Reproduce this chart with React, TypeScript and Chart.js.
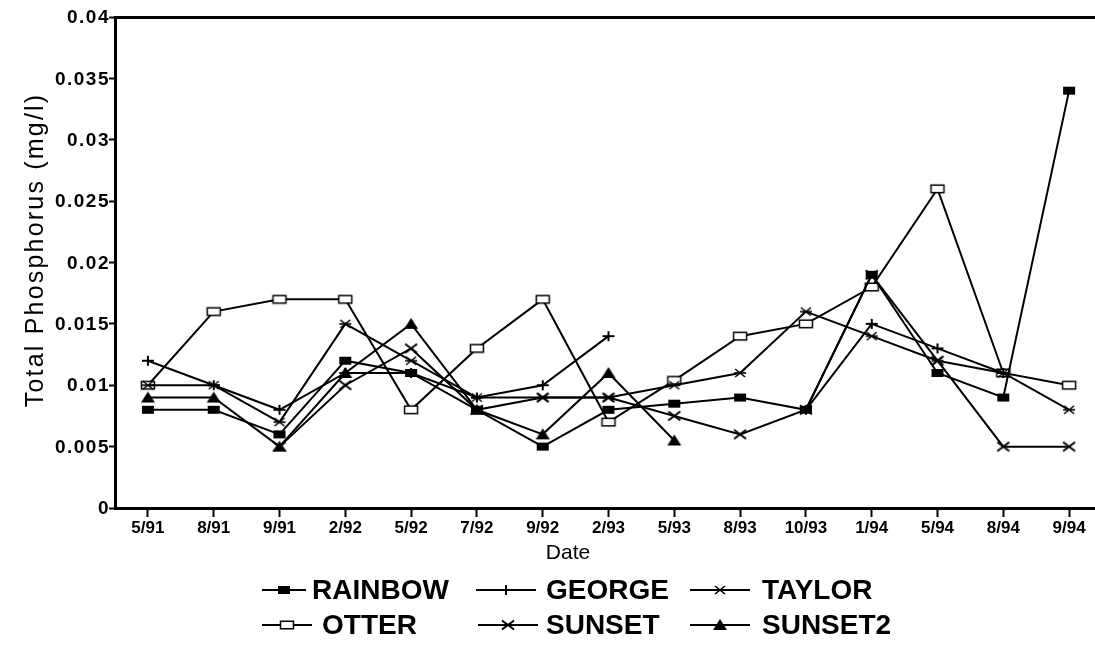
import React, { useEffect, useRef } from 'react';
import { Chart, registerables } from 'chart.js';

Chart.register(...registerables);

// Sampling dates (category axis)
const dateLabels = ['5/91', '8/91', '9/91', '2/92', '5/92', '7/92', '9/92', '2/93', '5/93', '8/93', '10/93', '1/94', '5/94', '8/94', '9/94'];

// Total phosphorus per lake, mg/l (null = not sampled)
const rainbow = [0.008, 0.008, 0.006, 0.012, 0.011, 0.008, 0.005, 0.008, 0.0085, 0.009, 0.008, 0.019, 0.011, 0.009, 0.034];
const george = [0.012, 0.010, 0.008, 0.011, 0.011, 0.009, 0.010, 0.014, null, null, 0.008, 0.015, 0.013, 0.011, null];
const taylor = [0.010, 0.010, 0.007, 0.015, 0.012, 0.009, 0.009, 0.009, 0.010, 0.011, 0.016, 0.014, 0.012, 0.011, 0.008];
const otter = [0.010, 0.016, 0.017, 0.017, 0.008, 0.013, 0.017, 0.007, 0.0104, 0.014, 0.015, 0.018, 0.026, 0.011, 0.010];
const sunset = [null, null, 0.005, 0.010, 0.013, 0.008, 0.009, 0.009, 0.0075, 0.006, 0.008, 0.019, 0.012, 0.005, 0.005];
const sunset2 = [0.009, 0.009, 0.005, 0.011, 0.015, 0.008, 0.006, 0.011, 0.0055, null, null, null, null, null, null];

const seriesNames = ['RAINBOW', 'GEORGE', 'TAYLOR', 'OTTER', 'SUNSET', 'SUNSET2'];
const yTickLabels = ['0', '0.005', '0.01', '0.015', '0.02', '0.025', '0.03', '0.035', '0.04'];
const yTitle = 'Total Phosphorus (mg/l)';
const xTitle = 'Date';

const FONT = '"Liberation Sans", Arial, Helvetica, sans-serif';

type MarkerKind = 'filledRect' | 'plus' | 'asterisk' | 'openRect' | 'cross' | 'triangle';

function makeMarker(kind: MarkerKind): HTMLCanvasElement {
  const c = document.createElement('canvas');
  c.width = 18;
  c.height = 14;
  const g = c.getContext('2d')!;
  const cx = 9;
  const cy = 7;
  g.strokeStyle = '#000';
  g.fillStyle = '#000';
  g.lineWidth = 2;
  const line = (x1: number, y1: number, x2: number, y2: number) => {
    g.beginPath();
    g.moveTo(x1, y1);
    g.lineTo(x2, y2);
    g.stroke();
  };
  switch (kind) {
    case 'filledRect':
      g.fillRect(cx - 6, cy - 4, 12, 8);
      break;
    case 'openRect':
      g.fillStyle = '#fff';
      g.fillRect(cx - 7, cy - 4, 14, 8);
      g.lineWidth = 1.5;
      g.strokeRect(cx - 6.5, cy - 3.75, 13, 7.5);
      break;
    case 'plus':
      line(cx - 6, cy, cx + 6, cy);
      line(cx, cy - 5, cx, cy + 5);
      break;
    case 'asterisk':
      g.lineWidth = 1.6;
      line(cx - 5, cy - 4, cx + 5, cy + 4);
      line(cx - 5, cy + 4, cx + 5, cy - 4);
      line(cx - 6, cy, cx + 6, cy);
      break;
    case 'cross':
      line(cx - 6, cy - 4.5, cx + 6, cy + 4.5);
      line(cx - 6, cy + 4.5, cx + 6, cy - 4.5);
      break;
    case 'triangle':
      g.beginPath();
      g.moveTo(cx, cy - 6);
      g.lineTo(cx + 7, cy + 5);
      g.lineTo(cx - 7, cy + 5);
      g.closePath();
      g.fill();
      break;
  }
  return c;
}

const markerKinds: MarkerKind[] = ['filledRect', 'plus', 'asterisk', 'openRect', 'cross', 'triangle'];

// Legend layout: two rows of three entries under the axis title
const legendSlots = [
  { x1: 262, x2: 306, tx: 312, y: 590 },
  { x1: 476, x2: 536, tx: 546, y: 590 },
  { x1: 690, x2: 750, tx: 762, y: 590 },
  { x1: 262, x2: 312, tx: 322, y: 625 },
  { x1: 478, x2: 538, tx: 546, y: 625 },
  { x1: 690, x2: 750, tx: 762, y: 625 },
];

function App() {
  const canvasRef = useRef<HTMLCanvasElement | null>(null);

  useEffect(() => {
    const canvas = canvasRef.current;
    if (!canvas) return;
    const markers = markerKinds.map(makeMarker);
    const values = [rainbow, george, taylor, otter, sunset, sunset2];

    const decorations = {
      id: 'decorations',
      afterDraw(chart: any) {
        const ctx: CanvasRenderingContext2D = chart.ctx;
        const yScale = chart.scales.y;
        ctx.save();
        ctx.fillStyle = '#000';

        // value labels on the vertical axis
        ctx.font = `bold 19px ${FONT}`;
        ctx.textAlign = 'right';
        ctx.textBaseline = 'middle';
        (ctx as any).letterSpacing = '1.5px';
        yTickLabels.forEach((label) => {
          ctx.fillText(label, yScale.right - 5, yScale.getPixelForValue(Number(label)) + 1);
        });

        // vertical axis title
        ctx.save();
        ctx.translate(36, 250);
        ctx.rotate(-Math.PI / 2);
        ctx.font = `25px ${FONT}`;
        (ctx as any).letterSpacing = '2.2px';
        ctx.textAlign = 'center';
        ctx.fillText(yTitle, 0, 0);
        ctx.restore();

        // horizontal axis title
        (ctx as any).letterSpacing = '0px';
        ctx.font = `21px ${FONT}`;
        ctx.textAlign = 'center';
        ctx.textBaseline = 'middle';
        ctx.fillText(xTitle, 568, 553);

        // legend
        ctx.font = `bold 28px ${FONT}`;
        ctx.textAlign = 'left';
        ctx.strokeStyle = '#000';
        ctx.lineWidth = 2;
        legendSlots.forEach((slot, i) => {
          ctx.beginPath();
          ctx.moveTo(slot.x1, slot.y);
          ctx.lineTo(slot.x2, slot.y);
          ctx.stroke();
          const m = markers[i];
          const mx = (slot.x1 + slot.x2) / 2;
          ctx.drawImage(m, Math.round(mx - m.width / 2), Math.round(slot.y - m.height / 2));
          ctx.fillText(seriesNames[i], slot.tx, slot.y + 1);
        });
        ctx.restore();
      },
    };

    const chart = new Chart(canvas, {
      type: 'line',
      data: {
        labels: dateLabels,
        datasets: seriesNames.map((name, i) => ({
          label: name,
          data: values[i],
          borderColor: '#000',
          backgroundColor: '#000',
          borderWidth: 2,
          pointStyle: markers[i] as any,
          pointRadius: 6,
          tension: 0,
          spanGaps: false,
          fill: false,
        })),
      },
      options: {
        responsive: false,
        animation: false,
        devicePixelRatio: 1,
        events: [],
        layout: { padding: { left: 0, right: 7, top: 17, bottom: 0 } },
        plugins: {
          legend: { display: false },
          tooltip: { enabled: false },
        },
        scales: {
          x: {
            type: 'category',
            offset: true,
            grid: {
              display: true,
              drawOnChartArea: false,
              drawTicks: true,
              tickLength: 9,
              tickColor: '#000',
              tickWidth: 2,
            },
            border: { display: true, color: '#000', width: 3 },
            ticks: {
              autoSkip: false,
              maxRotation: 0,
              minRotation: 0,
              padding: 1,
              color: '#000',
              font: { family: FONT, size: 17, weight: 'bold' },
            },
            afterFit(scale: any) {
              scale.height = 140;
            },
          },
          y: {
            type: 'linear',
            min: 0,
            max: 0.04,
            afterBuildTicks(scale: any) {
              scale.ticks = yTickLabels.map((l) => ({ value: Number(l) }));
            },
            grid: {
              display: true,
              drawOnChartArea: true,
              drawTicks: true,
              tickLength: 6,
              tickColor: '#000',
              tickWidth: 2,
              color: (c: any) => (c.tick && Math.abs(c.tick.value - 0.04) < 1e-9 ? '#000' : 'rgba(0,0,0,0)'),
              lineWidth: (c: any) => (c.tick && Math.abs(c.tick.value - 0.04) < 1e-9 ? 3 : 1),
            },
            border: { display: true, color: '#000', width: 3 },
            ticks: { display: false },
            afterFit(scale: any) {
              scale.width = 115;
            },
          },
        },
      },
      plugins: [decorations],
    });

    return () => chart.destroy();
  }, []);

  return (
    <div
      style={{
        position: 'fixed',
        left: 0,
        top: 0,
        width: 1095,
        height: 648,
        overflow: 'hidden',
        background: '#fff',
      }}
    >
      <canvas ref={canvasRef} width={1110} height={648} style={{ display: 'block' }} />
    </div>
  );
}

export default App;
